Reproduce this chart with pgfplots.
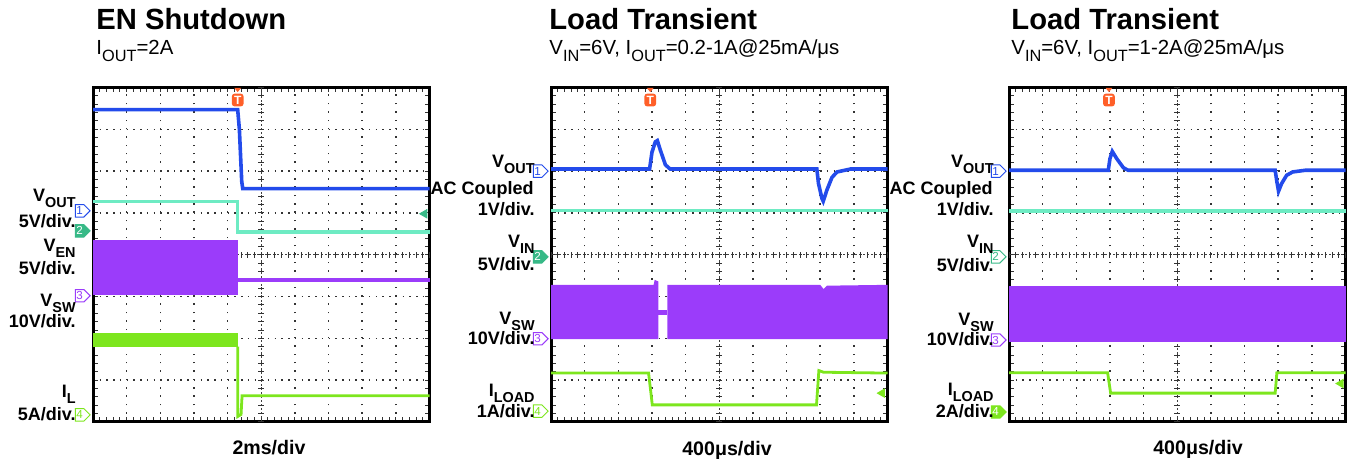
\documentclass[border=0pt]{standalone}
\usepackage{pgfplots}
\pgfplotsset{compat=1.18}
\usepackage{fontspec}
\setmainfont{Liberation Sans}
\usetikzlibrary{shapes.symbols}

\definecolor{tekblue}{RGB}{35,75,235}
\definecolor{tekcyan}{RGB}{110,235,195}
\definecolor{tekteal}{RGB}{55,185,135}
\definecolor{tekpurple}{RGB}{155,60,250}
\definecolor{tekgreen}{RGB}{125,230,30}
\definecolor{trigorange}{RGB}{255,95,40}

\newcommand\sub[1]{\raisebox{-0.32em}{\scalebox{0.8}{#1}}}
\newcommand\lab{\fontsize{9}{10}\selectfont\bfseries}
\newcommand\ttl{\fontsize{14.6}{16}\selectfont\bfseries}
\newcommand\stl{\fontsize{10.2}{12}\selectfont}
\newcommand\xl{\fontsize{9.8}{11}\selectfont\bfseries}

\pgfplotsset{oscope/.style={
  scale only axis, width=168.25pt, height=167.25pt,
  anchor=south west, clip=false,
  xmin=0, xmax=10, ymin=0, ymax=8,
  xtick={0,...,10}, ytick={0,...,8},
  xticklabels={}, yticklabels={},
  minor tick num=4, tick align=inside,
  major tick length=2.5pt, minor tick length=2.5pt,
  tick style={black!80, line width=0.5pt},
  grid=major,
  x grid style={black!80, line width=0.75pt, dash pattern=on 0.75pt off 3.43pt},
  y grid style={black!80, line width=0.75pt, dash pattern=on 0.75pt off 2.615pt},
  axis line style={line width=1.5pt},
}}
\tikzset{ctick/.style={black!80, line width=0.5pt},
  chanbox/.style={signal, signal to=east, inner sep=0.5pt, minimum width=6.2pt,
    minimum height=6.2pt, line width=0.5pt, anchor=east, xshift=-1.1pt,
    font=\fontsize{5.8}{6}\selectfont}}

% centre cross lines and trigger mark
\newcommand\decor[1]{%
  \draw[black!75, line width=0.6pt, dash pattern=on 1pt off 1pt] (axis cs:0,4) -- (axis cs:10,4);
  \draw[black!75, line width=0.6pt, dash pattern=on 1pt off 1pt] (axis cs:5,0) -- (axis cs:5,8);
  \pgfplotsinvokeforeach{0,0.2,...,10}{\draw[ctick] (axis cs:##1,4) ++(0,-1.6pt) -- ++(0,3.2pt);}
  \pgfplotsinvokeforeach{0,0.2,...,8}{\draw[ctick] (axis cs:5,##1) ++(-1.6pt,0) -- ++(3.2pt,0);}
  \fill[trigorange] (axis cs:#1,7.89) -- ++(-1.7pt,2.1pt) -- ++(3.4pt,0) -- cycle;
  \node[fill=trigorange, rounded corners=1.4pt, inner xsep=1.1pt, inner ysep=0.9pt,
    minimum height=6.4pt, text=white, font=\fontsize{6}{6}\selectfont\bfseries]
    at (axis cs:#1,7.7) {T};}
% channel marker: y, number, draw, fill, text
\newcommand\chan[5]{\node[chanbox, draw=#3, fill=#4, text=#5] at (axis cs:0,#1) {#2};}

\begin{document}
\begin{tikzpicture}[x=0.5pt, y=0.5pt]
\useasboundingbox (0pt,0pt) rectangle (675pt,232pt);

% ---------------- panel 1 ----------------
\begin{axis}[oscope, at={(46.5pt,21pt)}]
\decor{4.3}
\addplot[draw=none, fill=tekpurple] coordinates {(0,3.04)(0,4.36)(4.3,4.36)(4.3,3.04)} -- cycle;
\addplot[tekpurple, line width=2pt] coordinates {(4.3,3.40)(10,3.40)};
\addplot[draw=none, fill=tekgreen] coordinates {(0,1.80)(0,2.13)(4.3,2.13)(4.3,1.80)} -- cycle;
\addplot[tekgreen, line width=1.4pt] coordinates {(4.3,1.80)(4.3,0.13)(4.40,0.18)(4.43,0.63)(10,0.63)};
\addplot[tekcyan, line width=1.8pt] coordinates {(0,5.27)(4.3,5.27)(4.3,4.55)(10,4.55)};
\addplot[tekblue, line width=1.8pt] coordinates {(0,7.47)(4.30,7.47)(4.35,7.0)(4.42,5.75)(4.45,5.58)(10,5.58)};
\addplot[only marks, mark=triangle*, mark size=2.4pt, mark options={rotate=90, fill=tekteal, draw=tekteal}] coordinates {(9.85,4.98)};
\chan{5.05}{1}{tekblue}{white}{tekblue}
\chan{4.57}{2}{tekteal}{tekteal}{white}
\chan{3.02}{3}{tekpurple}{white}{tekpurple}
\chan{0.17}{4}{tekgreen}{white}{tekgreen}
\end{axis}

% ---------------- panel 2 ----------------
\begin{axis}[oscope, at={(275.5pt,21pt)}]
\decor{2.95}
\addplot[draw=none, fill=tekpurple] coordinates {(0,1.98)(0,3.28)(3.05,3.28)(3.08,3.40)(3.19,3.36)(3.19,1.98)} -- cycle;
\addplot[draw=none, fill=tekpurple] coordinates {(3.19,2.56)(3.19,2.68)(3.46,2.68)(3.46,2.56)} -- cycle;
\addplot[draw=none, fill=tekpurple] coordinates {(3.46,1.98)(3.46,3.28)(8.0,3.28)(8.1,3.18)(8.2,3.26)(10,3.28)(10,1.98)} -- cycle;
\addplot[tekgreen, line width=1.4pt] coordinates {(0,1.17)(2.90,1.17)(3.01,0.41)(7.89,0.41)(7.96,1.23)(8.1,1.19)(10,1.17)};
\addplot[tekcyan, line width=1.8pt] coordinates {(0,5.06)(10,5.06)};
\addplot[tekblue, line width=1.8pt] coordinates {(0,6.05)(2.93,6.05)(3.0,6.45)(3.1,6.70)(3.16,6.73)(3.25,6.5)(3.4,6.15)(3.54,6.05)(7.90,6.05)(7.95,5.7)(8.05,5.35)(8.09,5.28)(8.2,5.55)(8.35,5.85)(8.5,5.98)(8.9,6.05)(10,6.05)};
\addplot[only marks, mark=triangle*, mark size=2.4pt, mark options={rotate=90, fill=tekgreen, draw=tekgreen}] coordinates {(9.84,0.69)};
\chan{6.0}{1}{tekblue}{white}{tekblue}
\chan{3.95}{2}{tekteal}{tekteal}{white}
\chan{1.99}{3}{tekpurple}{white}{tekpurple}
\chan{0.26}{4}{tekgreen}{white}{tekgreen}
\end{axis}

% ---------------- panel 3 ----------------
\begin{axis}[oscope, at={(504.5pt,21pt)}]
\decor{2.97}
\addplot[draw=none, fill=tekpurple] coordinates {(0,1.92)(0,3.26)(10,3.26)(10,1.92)} -- cycle;
\addplot[tekgreen, line width=1.4pt] coordinates {(0,1.18)(2.93,1.18)(3.02,0.69)(7.91,0.69)(7.96,1.18)(10,1.18)};
\addplot[tekcyan, line width=1.8pt] coordinates {(0,5.04)(10,5.04)};
\addplot[tekblue, line width=1.8pt] coordinates {(0,6.02)(2.95,6.02)(3.0,6.3)(3.07,6.47)(3.2,6.3)(3.4,6.08)(3.54,6.02)(7.91,6.02)(7.96,5.75)(8.01,5.52)(8.1,5.7)(8.25,5.9)(8.43,5.98)(8.8,6.02)(10,6.02)};
\addplot[only marks, mark=triangle*, mark size=2.4pt, mark options={rotate=90, fill=tekgreen, draw=tekgreen}] coordinates {(9.86,0.92)};
\chan{6.0}{1}{tekblue}{white}{tekblue}
\chan{3.95}{2}{tekteal}{white}{tekteal}
\chan{1.96}{3}{tekpurple}{white}{tekpurple}
\chan{0.24}{4}{tekgreen}{tekgreen}{white}
\end{axis}

% titles
\node[anchor=base west, inner sep=0, font=\ttl] at (96,434) {EN Shutdown};
\node[anchor=base west, inner sep=0, font=\stl] at (96,409) {I\sub{OUT}=2A};
\node[anchor=base west, inner sep=0, font=\ttl] at (549,434) {Load Transient};
\node[anchor=base west, inner sep=0, font=\stl] at (549,409) {V\sub{IN}=6V, I\sub{OUT}=0.2-1A@25mA/μs};
\node[anchor=base west, inner sep=0, font=\ttl] at (1011,434) {Load Transient};
\node[anchor=base west, inner sep=0, font=\stl] at (1011,409) {V\sub{IN}=6V, I\sub{OUT}=1-2A@25mA/μs};

% x labels
\node[anchor=base, inner sep=0, font=\xl] at (269,9) {2ms/div};
\node[anchor=base, inner sep=0, font=\xl] at (727,8) {400μs/div};
\node[anchor=base, inner sep=0, font=\xl] at (1198,9) {400μs/div};

% channel labels, panel 1
\begin{scope}[every node/.style={anchor=base east, inner sep=0, font=\lab}]
\node at (76,262) {V\sub{OUT}};
\node at (76,236) {5V/div.};
\node at (76,212) {V\sub{EN}};
\node at (76,189) {5V/div.};
\node at (76,157) {V\sub{SW}};
\node at (76,136) {10V/div.};
\node at (76,66) {I\sub{L}};
\node at (76,43) {5A/div.};
% panel 2
\node at (535,296) {V\sub{OUT}};
\node at (534,269) {AC Coupled};
\node at (535,248) {1V/div.};
\node at (535,216) {V\sub{IN}};
\node at (535,193) {5V/div.};
\node at (535,139) {V\sub{SW}};
\node at (535,119) {10V/div.};
\node at (535,67) {I\sub{LOAD}};
\node at (535,46) {1A/div.};
% panel 3
\node at (994,296) {V\sub{OUT}};
\node at (993,269) {AC Coupled};
\node at (994,248) {1V/div.};
\node at (994,216) {V\sub{IN}};
\node at (994,192) {5V/div.};
\node at (994,138) {V\sub{SW}};
\node at (994,118) {10V/div.};
\node at (994,68) {I\sub{LOAD}};
\node at (994,46) {2A/div.};
\end{scope}
\end{tikzpicture}
\end{document}
